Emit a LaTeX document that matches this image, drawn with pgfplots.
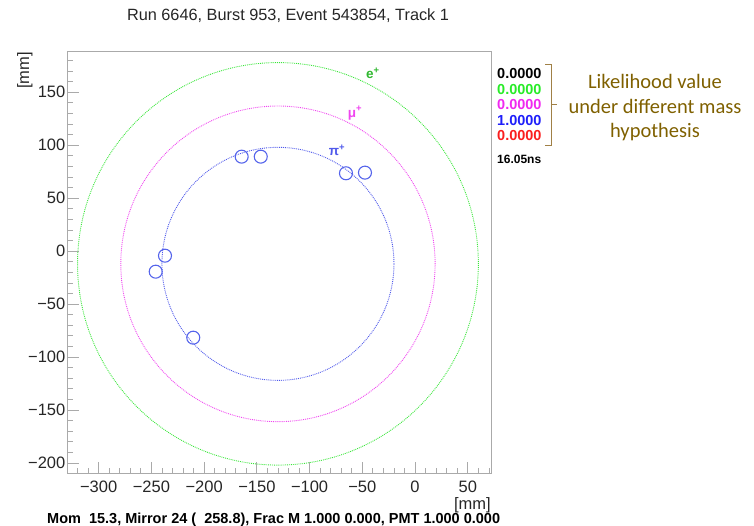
\documentclass[border=0pt]{standalone}
\usepackage{fontspec}
\setmainfont{Liberation Sans}
\newfontfamily\carlito{Carlito}
\usepackage{pgfplots}
\pgfplotsset{compat=1.18}
\definecolor{framegray}{RGB}{170,170,170}
\definecolor{ringgreen}{RGB}{60,230,60}
\definecolor{ringmag}{RGB}{240,70,240}
\definecolor{ringblue}{RGB}{80,90,235}
\definecolor{hitblue}{RGB}{85,100,235}
\definecolor{numgreen}{RGB}{40,235,40}
\definecolor{nummag}{RGB}{240,40,240}
\definecolor{numblue}{RGB}{30,30,250}
\definecolor{numred}{RGB}{250,30,30}
\definecolor{annot}{RGB}{127,96,0}
\definecolor{brack}{RGB}{160,128,70}
\begin{document}
\begin{tikzpicture}
\path[use as bounding box] (0pt,0pt) rectangle (754pt,526pt);
\begin{axis}[at={(67pt,52pt)}, anchor=south west,
  width=424pt, height=422pt, scale only axis,
  xmin=-330, xmax=72, ymin=-210.4, ymax=188,
  axis line style={framegray, line width=1pt},
  tick style={framegray, line width=0.8pt},
  tick pos=left, tick align=inside,
  major tick length=12pt, minor tick length=6pt,
  xtick={-300,-250,-200,-150,-100,-50,0,50},
  xticklabels={−300,−250,−200,−150,−100,−50,0,50},
  minor xtick={-320,-310,...,70},
  ytick={-200,-150,-100,-50,0,50,100,150},
  yticklabels={−200,−150,−100,−50,0,50,100,150},
  minor ytick={-210,-200,...,180},
  ticklabel style={font=\fontsize{16.5}{18}\selectfont, text=black!85},
  xticklabel style={inner sep=0pt, yshift=-7pt},
  yticklabel style={inner sep=1.5pt},
  clip=false]
\draw[ringgreen, densely dotted, line width=0.9pt] (axis cs:-130,-12) circle[radius=190];
\draw[ringmag, densely dotted, line width=0.9pt] (axis cs:-130,-12) circle[radius=149];
\draw[ringblue, densely dotted, line width=0.9pt] (axis cs:-130,-12) circle[radius=110];
\addplot[only marks, mark=o, mark size=6.5pt, mark options={hitblue, line width=1.1pt}] coordinates {
(-164.4,89.2) (-146.3,89.2) (-65.5,73.5) (-47.5,74.1) (-237.1,-4.3) (-245.9,-19.4) (-210.3,-81.7)};
\node[ringgreen!80!black, font=\bfseries\fontsize{13.5}{14}\selectfont] at (axis cs:-39.9,168.2) {e\textsuperscript{+}};
\node[ringmag, font=\bfseries\fontsize{13.5}{14}\selectfont] at (axis cs:-56.9,130.4) {μ\textsuperscript{+}};
\node[ringblue, font=\bfseries\fontsize{13.5}{14}\selectfont] at (axis cs:-74,95.5) {π\textsuperscript{+}};
\end{axis}
\node[rotate=90, anchor=base east, inner sep=0pt, font=\fontsize{16.5}{18}\selectfont, text=black!85] at (29pt,474pt) {[mm]};
\node[anchor=north east, inner sep=0pt, font=\fontsize{16.5}{18}\selectfont, text=black!85] at (491pt,29pt) {[mm]};
\node[anchor=base, font=\fontsize{16.3}{18}\selectfont, text=black!85] at (288pt,505pt) {Run 6646, Burst 953, Event 543854, Track 1};
\node[anchor=base west, inner sep=0pt, font=\bfseries\fontsize{14.5}{16}\selectfont] at (47pt,2.5pt) {Mom\ \ 15.3, Mirror 24 (\ \ 258.8), Frac M 1.000 0.000, PMT 1.000 0.000};
\begin{scope}[every node/.style={anchor=base west, inner sep=0pt, font=\bfseries\fontsize{14.5}{16}\selectfont}]
\node[text=black] at (497pt,447pt) {0.0000};
\node[text=numgreen] at (497pt,431pt) {0.0000};
\node[text=nummag] at (497pt,416pt) {0.0000};
\node[text=numblue] at (497pt,400pt) {1.0000};
\node[text=numred] at (497pt,385pt) {0.0000};
\node[font=\bfseries\fontsize{12}{14}\selectfont] at (497pt,362pt) {16.05ns};
\end{scope}
\draw[brack, line width=1pt] (545pt,461pt) -- (551pt,461pt) -- (551pt,380pt) -- (545pt,380pt);
\draw[brack, line width=1pt] (551pt,421pt) -- (557pt,421pt);
\begin{scope}[every node/.style={anchor=base, inner sep=0pt, text=annot, font=\carlito\fontsize{20.5}{24}\selectfont}]
\node at (655pt,437pt) {Likelihood value};
\node at (655pt,412pt) {under different mass};
\node at (655pt,388pt) {hypothesis};
\end{scope}
\end{tikzpicture}
\end{document}
